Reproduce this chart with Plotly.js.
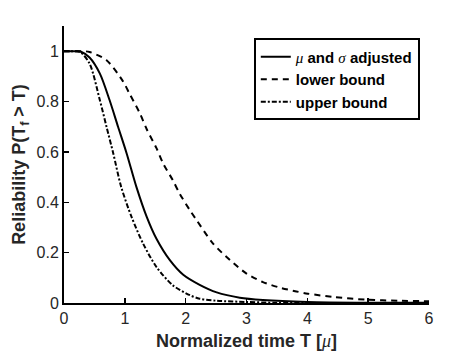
<!DOCTYPE html>
<html>
<head>
<meta charset="utf-8">
<script src="https://cdn.plot.ly/plotly-3.0.1.min.js"></script>
<style>html,body{margin:0;padding:0;background:#fff;}#chart{width:474px;height:355px;}</style>
</head>
<body>
<div id="chart"></div>
<script>
// Series
var adjustedX = [0, 0.1, 0.2, 0.28, 0.42, 0.59, 0.75, 0.89, 1.03, 1.19, 1.36, 1.52, 1.74, 1.96, 2.23, 2.51, 2.89, 3.27, 4, 5, 6];
var adjustedY = [1, 1, 1, 0.998, 0.975, 0.911, 0.805, 0.699, 0.594, 0.461, 0.342, 0.255, 0.170, 0.112, 0.072, 0.042, 0.021, 0.012, 0.004, 0.001, 0.0005];

var lowerX = [0, 0.1, 0.2, 0.3, 0.42, 0.70, 0.97, 1.08, 1.25, 1.36, 1.52, 1.63, 1.79, 1.90, 2.07, 2.18, 2.45, 2.73, 3.0, 3.27, 3.55, 3.82, 4.01, 4.43, 4.98, 5.5, 6];
var lowerY = [1, 1, 1, 1, 0.997, 0.964, 0.88, 0.83, 0.752, 0.69, 0.615, 0.554, 0.487, 0.435, 0.368, 0.329, 0.236, 0.170, 0.117, 0.083, 0.061, 0.046, 0.037, 0.024, 0.013, 0.009, 0.007];

var upperX = [0, 0.1, 0.2, 0.27, 0.42, 0.59, 0.70, 0.81, 0.94, 1.11, 1.30, 1.52, 1.79, 2.07, 2.23, 2.51, 3.0, 3.5, 4, 5, 6];
var upperY = [1, 1, 1, 0.997, 0.951, 0.805, 0.699, 0.594, 0.461, 0.342, 0.236, 0.143, 0.070, 0.031, 0.017, 0.009, 0.004, 0.001, 0.0005, 0, 0];

var muSpan = "<span style='font-style:italic;font-family:Liberation Serif;font-weight:normal'>μ</span>";
var sigmaSpan = "<span style='font-style:italic;font-family:Liberation Serif;font-weight:normal'>σ</span>";
var seriesNames = [
  muSpan + "<b> and </b>" + sigmaSpan + "<b> adjusted</b>",
  "<b>lower bound</b>",
  "<b>upper bound</b>"
];
var xTickVals = [0, 1, 2, 3, 4, 5, 6];
var yTickVals = [0, 0.2, 0.4, 0.6, 0.8, 1];
var yTickText = ["0", "0.2", "0.4", "0.6", "0.8", "1"];
var xTitle = "<b>Normalized time T [</b>" + muSpan + "<b>]</b>";
var yTitle = "<b>Reliability P(T<sub>f</sub> &gt; T)</b>";

var fontFam = "Liberation Sans, Arial, Helvetica, sans-serif";

var traces = [
  {x: adjustedX, y: adjustedY, name: seriesNames[0], mode: "lines", line: {color: "#000", width: 2, shape: "spline", smoothing: 0.8, dash: "solid"}},
  {x: lowerX, y: lowerY, name: seriesNames[1], mode: "lines", line: {color: "#000", width: 2, shape: "spline", smoothing: 0.8, dash: "6px,5px"}},
  {x: upperX, y: upperY, name: seriesNames[2], mode: "lines", line: {color: "#000", width: 2, shape: "spline", smoothing: 0.8, dash: "5px,2px,2px,2px"}}
];

var layout = {
  width: 474, height: 355,
  margin: {l: 64, r: 45, t: 26, b: 52},
  paper_bgcolor: "#fff", plot_bgcolor: "#fff",
  font: {family: fontFam, color: "#262626", size: 16},
  showlegend: true,
  legend: {
    x: 0.52, y: 0.955, xanchor: "left", yanchor: "top",
    bgcolor: "#fff", bordercolor: "#000", borderwidth: 2,
    font: {family: fontFam, size: 15, color: "#000"},
    tracegroupgap: 0, itemwidth: 30
  },
  xaxis: {
    range: [0, 6], tickvals: xTickVals, ticktext: xTickVals.map(String),
    ticks: "inside", ticklen: 5, tickwidth: 1.5, tickcolor: "#000",
    showline: true, linecolor: "#000", linewidth: 2,
    showgrid: false, zeroline: false, mirror: false,
    tickfont: {size: 16, color: "#262626"},
    title: {text: xTitle, font: {size: 18, color: "#262626"}, standoff: 8}
  },
  yaxis: {
    range: [0, 1.1], tickvals: yTickVals, ticktext: yTickText,
    ticks: "inside", ticklen: 5, tickwidth: 1.5, tickcolor: "#000",
    showline: true, linecolor: "#000", linewidth: 2,
    showgrid: false, zeroline: false, mirror: false,
    tickfont: {size: 16, color: "#262626"},
    title: {text: yTitle, font: {size: 18, color: "#262626"}, standoff: 6}
  }
};

Plotly.newPlot("chart", traces, layout, {displayModeBar: false, staticPlot: true});
</script>
</body>
</html>
